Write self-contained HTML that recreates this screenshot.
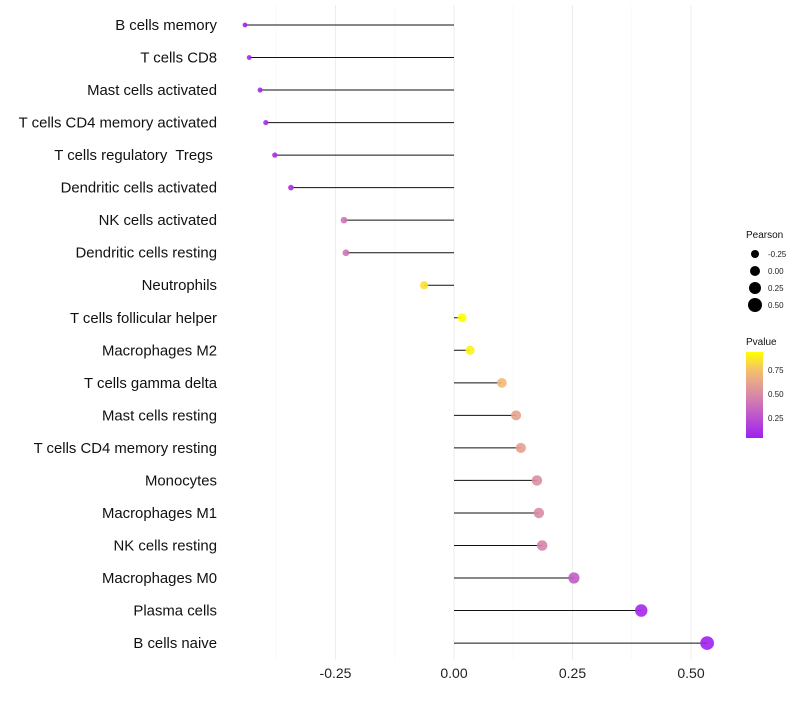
<!DOCTYPE html>
<html><head><meta charset="utf-8"><style>
body{margin:0;background:#fff;font-family:"Liberation Sans",sans-serif;}
text{white-space:pre;}
</style></head><body>
<svg id="c" width="800" height="700" xmlns="http://www.w3.org/2000/svg">
<defs><linearGradient id="g" x1="0" y1="1" x2="0" y2="0">
<stop offset="0" stop-color="#A020F0"/><stop offset="0.5" stop-color="#D889A8"/><stop offset="0.78" stop-color="#F3BE70"/><stop offset="1" stop-color="#FFFF00"/></linearGradient></defs>
</svg>
<script>
const categories=["B cells memory","T cells CD8","Mast cells activated","T cells CD4 memory activated","T cells regulatory  Tregs ","Dendritic cells activated","NK cells activated","Dendritic cells resting","Neutrophils","T cells follicular helper","Macrophages M2","T cells gamma delta","Mast cells resting","T cells CD4 memory resting","Monocytes","Macrophages M1","NK cells resting","Macrophages M0","Plasma cells","B cells naive"];
const pearson=[-0.441,-0.432,-0.409,-0.397,-0.378,-0.344,-0.232,-0.228,-0.063,0.017,0.034,0.101,0.131,0.141,0.175,0.179,0.186,0.253,0.395,0.534];
const pvalue=[0.06,0.07,0.08,0.09,0.1,0.12,0.4,0.4,0.85,0.95,0.9,0.72,0.62,0.6,0.52,0.5,0.47,0.3,0.08,0.03];
const xTicks=[-0.25,0,0.25,0.5];
const xTickLabels=["-0.25","0.00","0.25","0.50"];
const sizeLegend=[-0.25,0,0.25,0.5];
const colorTicks=[0.25,0.5,0.75];
const svg=document.getElementById('c');
const NS="http://www.w3.org/2000/svg";
const x=v=>454+v*474;
const y=i=>25+i*32.53;
const r=v=>2.4+(v+0.44)*4.6;
function lerp(a,b,t){return a.map((c,k)=>Math.round(c+(b[k]-c)*t));}
const stops=[[0,[160,32,240]],[0.5,[216,137,168]],[0.78,[243,190,112]],[1,[255,255,0]]];
const pcol=p=>{const t=(p-0.04)/0.9;const tt=Math.max(0,Math.min(1,t));for(let k=1;k<stops.length;k++){if(tt<=stops[k][0]){const [a,ca]=stops[k-1],[b,cb]=stops[k];const c=lerp(ca,cb,(tt-a)/(b-a));return `rgb(${c})`;}}return 'rgb(255,255,0)';};
function el(t,a,txt){const e=document.createElementNS(NS,t);for(const k in a)e.setAttribute(k,a[k]);if(txt!==undefined)e.textContent=txt;svg.appendChild(e);return e;}
[-0.375,-0.125,0.125,0.375].forEach(v=>{const g=el('line',{x1:x(v),x2:x(v),y1:5,y2:660,stroke:'#f6f6f6','stroke-width':0.6});});
xTicks.forEach((v,i)=>{const g=el('line',{x1:x(v),x2:x(v),y1:5,y2:660,stroke:'#eeeeee','stroke-width':1.1});
const t=el('text',{x:x(v),y:678,'text-anchor':'middle','font-size':14,fill:'#222'},xTickLabels[i]);});
categories.forEach((c,i)=>{
const t=el('text',{x:217,y:y(i)+5,'text-anchor':'end','font-size':14.9,fill:'#111'},c);
const l=el('line',{x1:x(0),x2:x(pearson[i]),y1:y(i),y2:y(i),stroke:'#111','stroke-width':1});
const p=el('circle',{cx:x(pearson[i]),cy:y(i),r:r(pearson[i]),fill:pcol(pvalue[i]),'fill-opacity':0.9});});
const lt=el('text',{x:746,y:238,'font-size':10,fill:'#111'},'Pearson');
sizeLegend.forEach((v,i)=>{const cy=254+i*17;const c=el('circle',{cx:755,cy:cy,r:4+i*1},'');
const t=el('text',{x:768,y:cy+3,'font-size':8,fill:'#222'},v.toFixed(2));});
const ct=el('text',{x:746,y:345,'font-size':10,fill:'#111'},'Pvalue');
const cb=el('rect',{x:746,y:352,width:17,height:86,fill:'url(#g)'});
colorTicks.forEach(v=>{const cy=438-(v-0.04)/0.9*86;const t=el('text',{x:768,y:cy+3,'font-size':8,fill:'#222'},v.toFixed(2));});
</script>
</body></html>
